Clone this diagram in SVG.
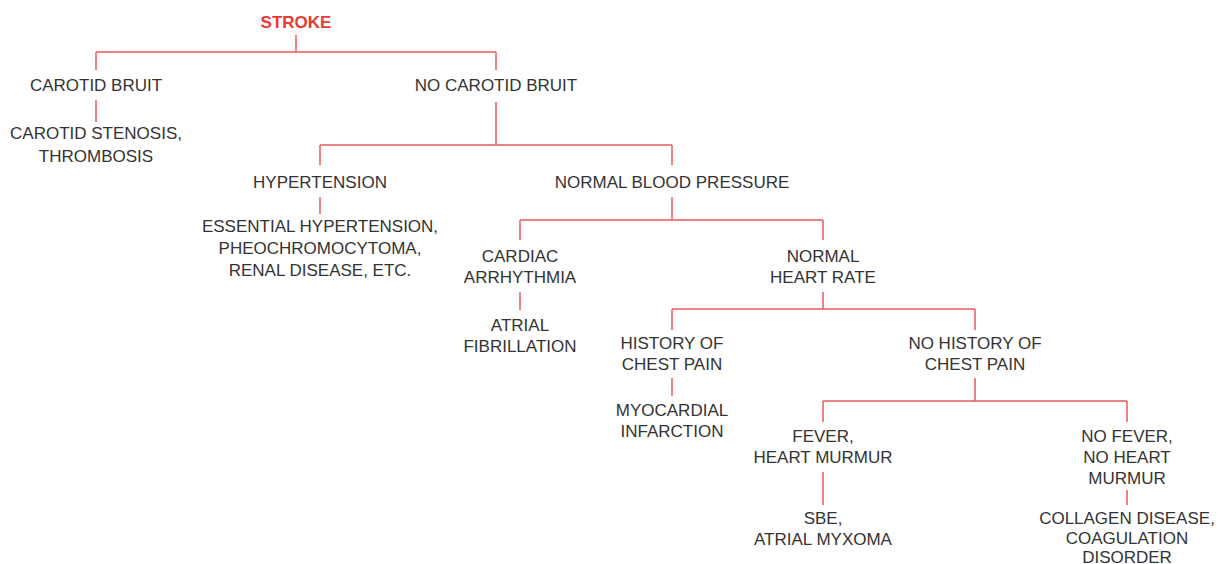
<svg xmlns="http://www.w3.org/2000/svg" width="1223" height="564" viewBox="0 0 1223 564">
<style>
text{font-family:"Liberation Sans",Arial,sans-serif;font-size:17px;fill:#333;text-anchor:middle}
.root{font-weight:bold;fill:#e63a32}
.c line{stroke:#e8595b;stroke-width:1.5;fill:none}
</style>
<rect width="1223" height="564" fill="#fff"/>
<g class="c" id="connectors">
<line x1="296" y1="35" x2="296" y2="52"/>
<line x1="96" y1="52" x2="496" y2="52"/>
<line x1="96" y1="52" x2="96" y2="70"/>
<line x1="496" y1="52" x2="496" y2="70"/>
<line x1="96" y1="100" x2="96" y2="122"/>
<line x1="496" y1="102" x2="496" y2="145"/>
<line x1="320" y1="145" x2="672" y2="145"/>
<line x1="320" y1="145" x2="320" y2="165"/>
<line x1="672" y1="145" x2="672" y2="165"/>
<line x1="320" y1="197" x2="320" y2="214"/>
<line x1="672" y1="197" x2="672" y2="220"/>
<line x1="520" y1="220" x2="823" y2="220"/>
<line x1="520" y1="220" x2="520" y2="240"/>
<line x1="823" y1="220" x2="823" y2="240"/>
<line x1="520" y1="292" x2="520" y2="310"/>
<line x1="823" y1="292" x2="823" y2="309"/>
<line x1="672" y1="309" x2="975" y2="309"/>
<line x1="672" y1="309" x2="672" y2="330"/>
<line x1="975" y1="309" x2="975" y2="330"/>
<line x1="672" y1="378" x2="672" y2="396"/>
<line x1="975" y1="378" x2="975" y2="401"/>
<line x1="823" y1="401" x2="1127" y2="401"/>
<line x1="823" y1="401" x2="823" y2="422"/>
<line x1="1127" y1="401" x2="1127" y2="422"/>
<line x1="823" y1="472" x2="823" y2="505"/>
<line x1="1127" y1="490" x2="1127" y2="505"/>
</g>
<g id="n-stroke"><text class="root" x="296" y="28">STROKE</text></g>
<g id="n-carotid-bruit"><text x="96" y="91">CAROTID BRUIT</text></g>
<g id="n-carotid-stenosis"><text x="96" y="139">CAROTID STENOSIS,</text><text x="96" y="162">THROMBOSIS</text></g>
<g id="n-no-carotid-bruit"><text x="496" y="91">NO CAROTID BRUIT</text></g>
<g id="n-hypertension"><text x="320" y="188">HYPERTENSION</text></g>
<g id="n-essential"><text x="320" y="232">ESSENTIAL HYPERTENSION,</text><text x="320" y="254">PHEOCHROMOCYTOMA,</text><text x="320" y="276">RENAL DISEASE, ETC.</text></g>
<g id="n-normal-bp"><text x="672" y="188">NORMAL BLOOD PRESSURE</text></g>
<g id="n-arrhythmia"><text x="520" y="262">CARDIAC</text><text x="520" y="283">ARRHYTHMIA</text></g>
<g id="n-normal-hr"><text x="823" y="262">NORMAL</text><text x="823" y="283">HEART RATE</text></g>
<g id="n-af"><text x="520" y="331">ATRIAL</text><text x="520" y="352">FIBRILLATION</text></g>
<g id="n-history"><text x="672" y="349">HISTORY OF</text><text x="672" y="370">CHEST PAIN</text></g>
<g id="n-no-history"><text x="975" y="349">NO HISTORY OF</text><text x="975" y="370">CHEST PAIN</text></g>
<g id="n-mi"><text x="672" y="416">MYOCARDIAL</text><text x="672" y="437">INFARCTION</text></g>
<g id="n-fever"><text x="823" y="442">FEVER,</text><text x="823" y="463">HEART MURMUR</text></g>
<g id="n-no-fever"><text x="1127" y="442">NO FEVER,</text><text x="1127" y="463">NO HEART</text><text x="1127" y="484">MURMUR</text></g>
<g id="n-sbe"><text x="823" y="524">SBE,</text><text x="823" y="545">ATRIAL MYXOMA</text></g>
<g id="n-collagen"><text x="1127" y="524">COLLAGEN DISEASE,</text><text x="1127" y="544">COAGULATION</text><text x="1127" y="563">DISORDER</text></g>
</svg>
